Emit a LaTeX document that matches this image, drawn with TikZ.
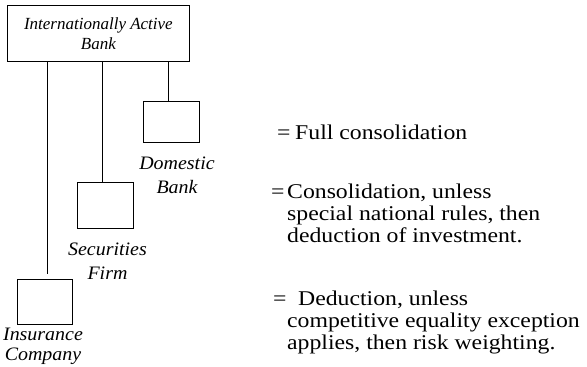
\documentclass[tikz,border=0pt]{standalone}
\usepackage{fontspec}
\setmainfont{Liberation Serif}
\newfontfamily\boxfont{Liberation Serif}[FakeStretch=1.05]
\newfontfamily\keyfont{Liberation Serif}[FakeStretch=1.13]
\begin{document}
\begin{tikzpicture}[x=1pt,y=-1pt,
  entity/.style={draw, line width=0.8pt, inner sep=0pt, anchor=north west},
  link/.style={line width=0.8pt},
  tag/.style={font=\boxfont\itshape\fontsize{19}{23.5}\selectfont, align=center, anchor=base, inner sep=0pt},
  key/.style={font=\keyfont\fontsize{21}{22}\selectfont, align=left, anchor=base west, inner sep=0pt}]
\useasboundingbox (0,0) rectangle (587,367);

% parent bank and its three subsidiaries
\node[entity, minimum width=182pt, minimum height=56pt, align=center,
      font=\itshape\fontsize{17}{20}\selectfont] (parent) at (7,5) {Internationally Active\\Bank};
\node[entity, minimum width=56pt, minimum height=41pt] (domestic) at (143,101) {};
\node[entity, minimum width=56pt, minimum height=46pt] (securities) at (77,182) {};
\node[entity, minimum width=55pt, minimum height=45pt] (insurance) at (17,279) {};

% ownership lines
\draw[link] ([xshift=-3pt]domestic.north |- parent.south) -- ([xshift=-3pt]domestic.north);
\draw[link] ([xshift=-3pt]securities.north |- parent.south) -- ([xshift=-3pt]securities.north);
\draw[link, shorten >=5pt] ([xshift=2.5pt]insurance.north |- parent.south) -- ([xshift=2.5pt]insurance.north);

% subsidiary names (anchored at the baseline of the last line)
\node[tag] (domesticlabel) at (177,193) {Domestic\\Bank};
\node[tag] (securitieslabel) at (107.5,279) {Securities\\Firm};
\node[tag, font=\boxfont\itshape\fontsize{19}{20}\selectfont] (insurancelabel) at (43,360) {Insurance\\Company};

% treatment key (anchored at the baseline of the last line)
\node[key] (eq1) at (277,139) {=};
\node[key] (key1) at (295,139) {Full consolidation};
\node[key] (eq2) at (271,198) {=};
\node[key] (key2) at (287,242) {Consolidation, unless\\special national rules, then\\deduction of investment.};
\node[key] (eq3) at (273,305) {=};
\node[key] (key3) at (287,349) {\hspace*{11pt}Deduction, unless\\competitive equality exception\\applies, then risk weighting.};
\end{tikzpicture}
\end{document}
